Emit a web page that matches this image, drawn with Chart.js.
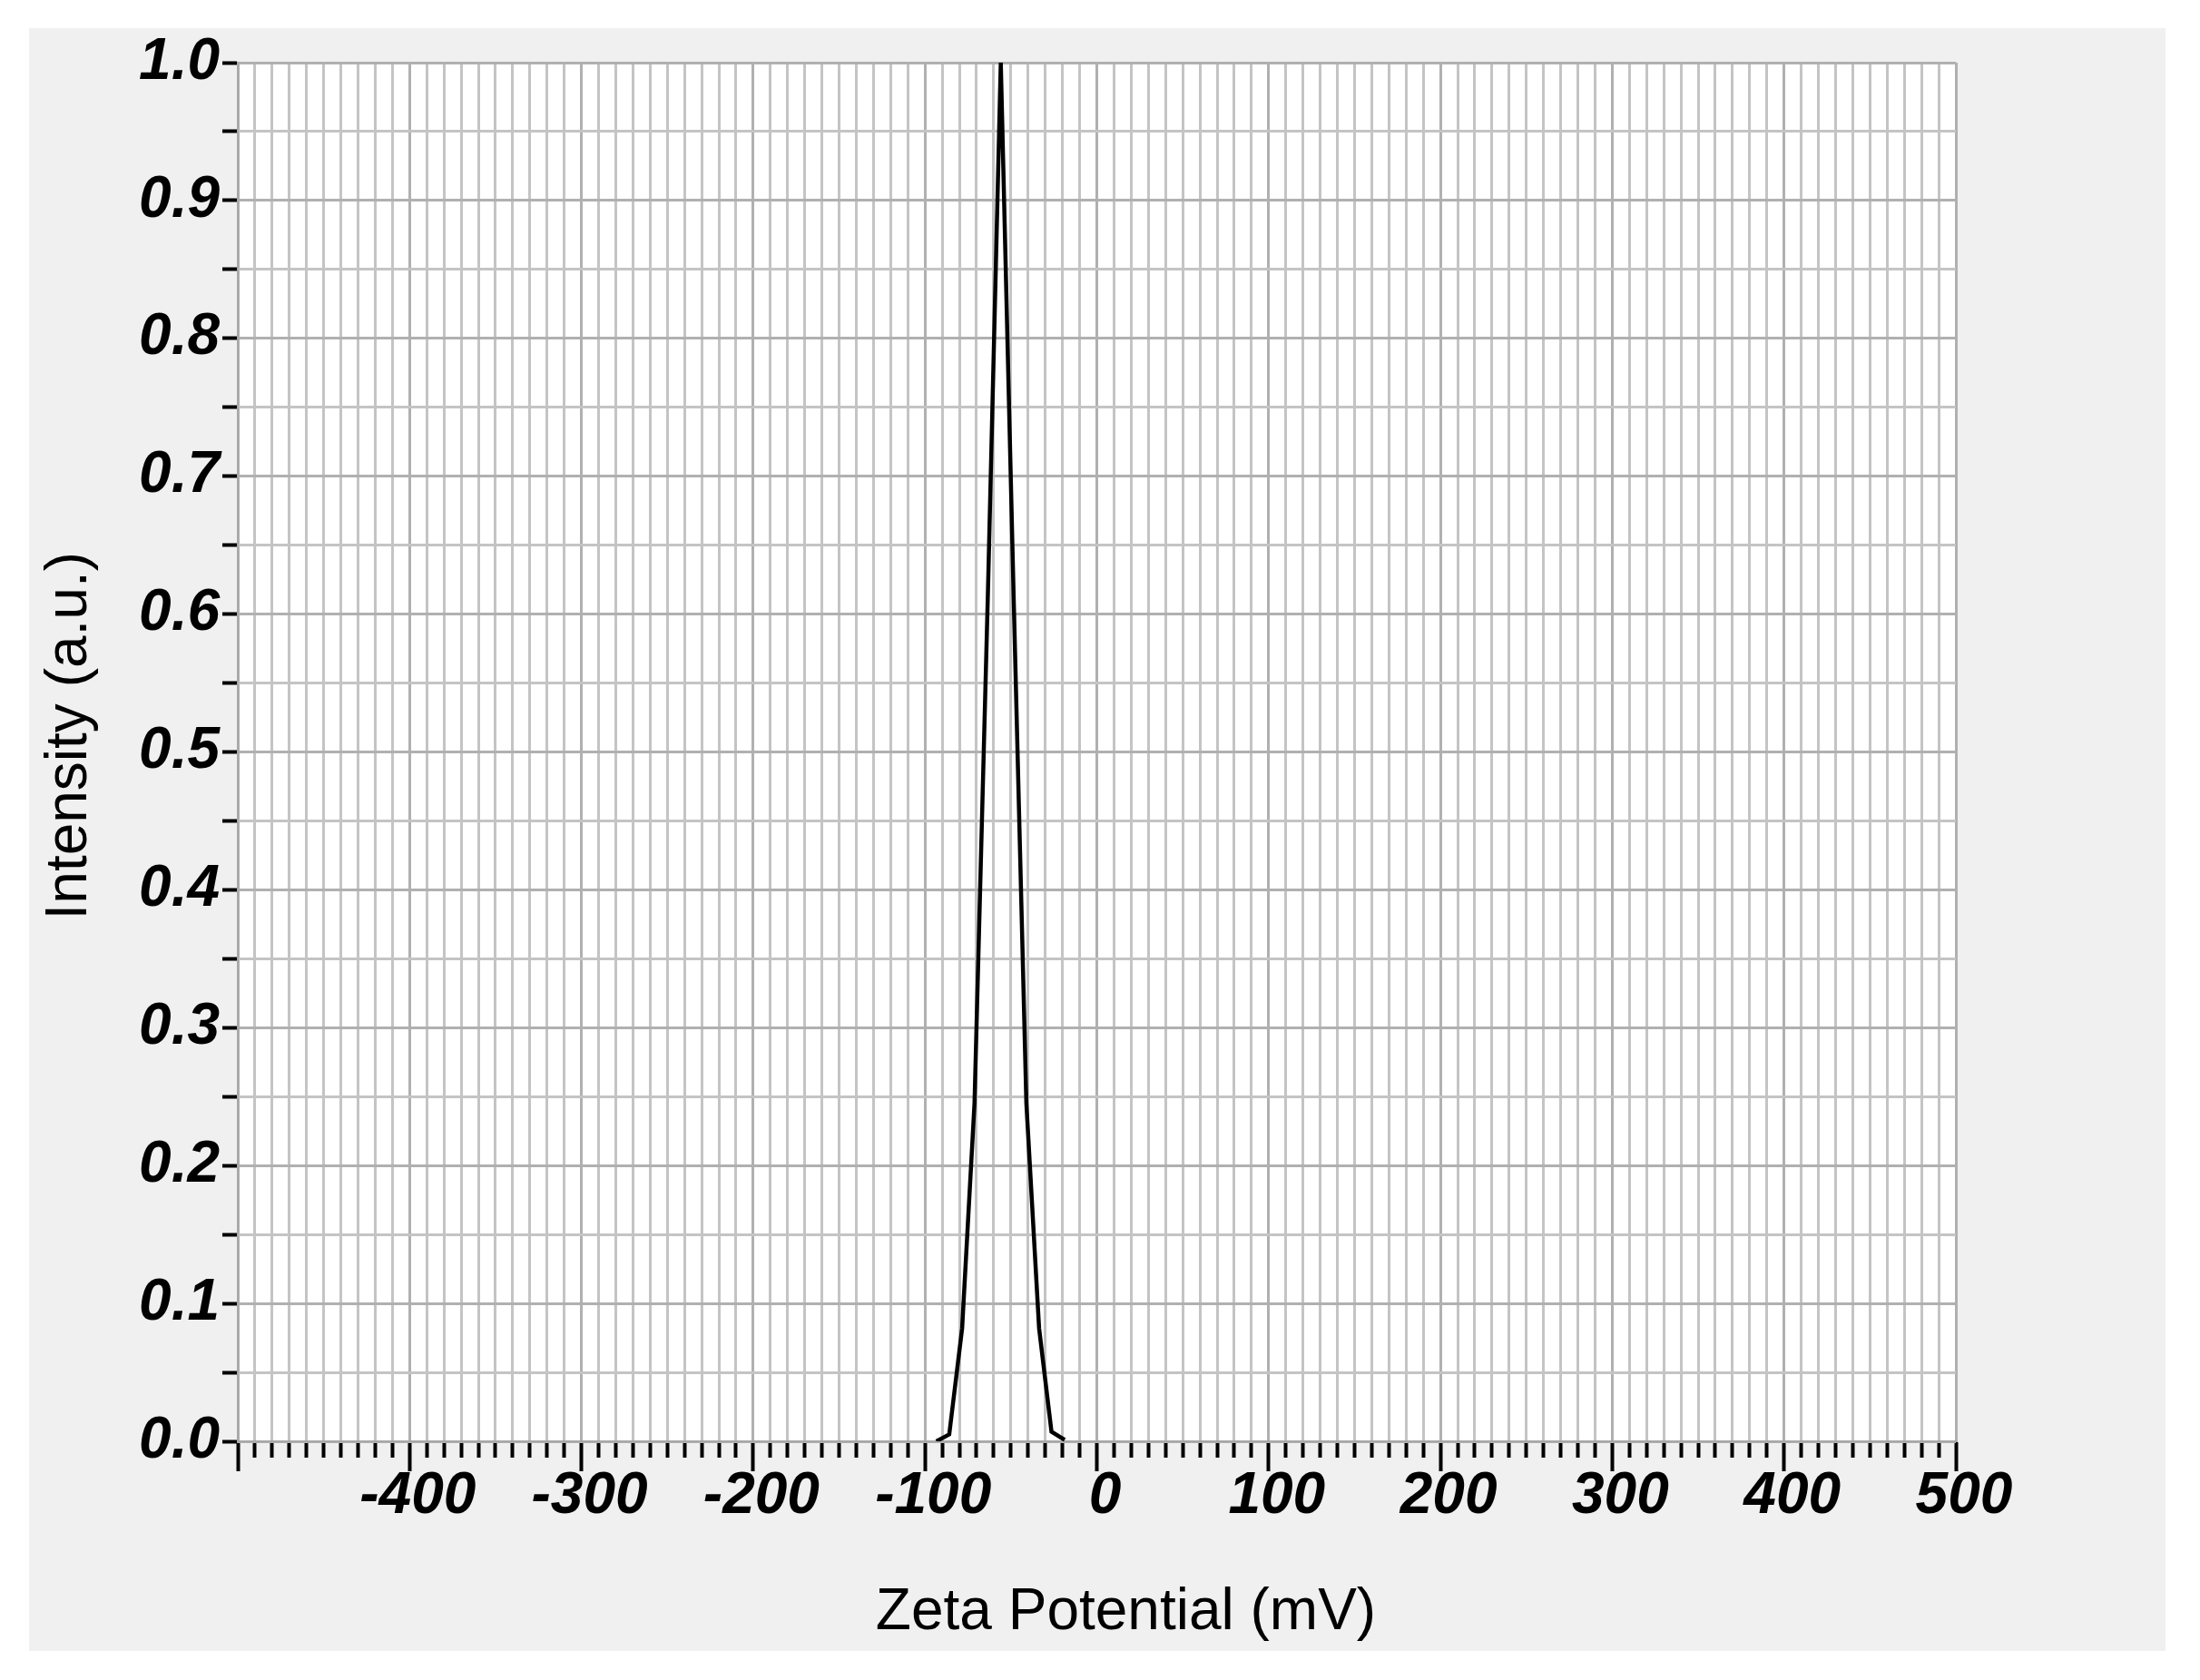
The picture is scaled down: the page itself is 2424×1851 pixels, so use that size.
<!DOCTYPE html>
<html>
<head>
<meta charset="utf-8">
<script src="https://cdn.jsdelivr.net/npm/chart.js@4"></script>
<style>
  html, body { margin: 0; padding: 0; background: #ffffff; }
  canvas { display: block; }
</style>
</head>
<body>
<canvas id="chart" width="2424" height="1851"></canvas>
<script>
// ---- data ----
const zetaPotential = [-93.4, -85.9, -78.4, -71.2, -63.4, -55.9, -48.4, -41.0, -33.6, -26.4, -18.7];
const intensity     = [0.000, 0.005, 0.082, 0.245, 0.615, 1.000, 0.612, 0.245, 0.082, 0.007, 0.001];

const xTickLabels = ['-400', '-300', '-200', '-100', '0', '100', '200', '300', '400', '500'];
const yTickLabels = ['0.0', '0.1', '0.2', '0.3', '0.4', '0.5', '0.6', '0.7', '0.8', '0.9', '1.0'];

const xAxisTitle = 'Zeta Potential (mV)';
const yAxisTitle = 'Intensity (a.u.)';

// ---- helpers ----
const isMajorX = v => Math.abs(v / 100 - Math.round(v / 100)) < 1e-6;
const isMajorY = v => Math.abs(v * 10 - Math.round(v * 10)) < 1e-6;
const FONT = "'Liberation Sans', Arial, Helvetica, sans-serif";

const backgroundPlugin = {
  id: 'panelBackground',
  beforeDraw(chart) {
    const { ctx, chartArea } = chart;
    ctx.save();
    ctx.fillStyle = '#f0f0f0';
    ctx.fillRect(32, 31, 2354, 1788);
    ctx.fillStyle = '#ffffff';
    ctx.fillRect(chartArea.left, chartArea.top, chartArea.right - chartArea.left, chartArea.bottom - chartArea.top);
    ctx.restore();
  }
};

new Chart(document.getElementById('chart'), {
  type: 'line',
  data: {
    datasets: [{
      data: zetaPotential.map((x, i) => ({ x: x, y: intensity[i] })),
      borderColor: '#000000',
      borderWidth: 4.5,
      pointRadius: 0,
      fill: false,
      tension: 0
    }]
  },
  options: {
    responsive: false,
    animation: false,
    events: [],
    layout: { padding: { left: 0, top: 69, right: 269, bottom: 0 } },
    plugins: { legend: { display: false }, tooltip: { enabled: false } },
    scales: {
      x: {
        type: 'linear',
        position: 'bottom',
        min: -500,
        max: 500,
        afterFit: s => { s.height = 263; },
        border: { display: true, color: '#a8a8a8', width: 2 },
        grid: {
          color: c => isMajorX(c.tick.value) ? '#b0b0b0' : '#c4c4c4',
          lineWidth: 3,
          drawTicks: true,
          tickLength: 33,
          tickColor: '#000000',
          tickWidth: 4,
          tickBorderDash: c => isMajorX(c.tick.value) ? [] : [17, 200]
        },
        ticks: {
          stepSize: 10,
          maxTicksLimit: 500,
          autoSkip: false,
          maxRotation: 0,
          minRotation: 0,
          labelOffset: 9,
          padding: 0,
          color: '#000000',
          font: { family: FONT, size: 64, style: 'italic', weight: 'bold', lineHeight: 0.9 },
          callback: v => {
            const s = String(Math.round(v));
            return xTickLabels.includes(s) ? s : '';
          }
        },
        title: {
          display: true,
          text: '\u2003' + xAxisTitle,
          color: '#000000',
          font: { family: FONT, size: 64, weight: 'normal', lineHeight: 1.2 },
          padding: { top: 0, bottom: 35 }
        }
      },
      y: {
        type: 'linear',
        position: 'left',
        min: 0,
        max: 1,
        afterFit: s => { s.width = 262; },
        border: { display: true, color: '#a8a8a8', width: 2 },
        grid: {
          color: c => isMajorY(c.tick.value) ? '#b0b0b0' : '#c4c4c4',
          lineWidth: 3,
          drawTicks: true,
          tickLength: 17,
          tickColor: '#000000',
          tickWidth: 4
        },
        ticks: {
          stepSize: 0.05,
          maxTicksLimit: 500,
          autoSkip: false,
          padding: 3,
          color: '#000000',
          font: { family: FONT, size: 64, style: 'italic', weight: 'bold', lineHeight: 1.2 },
          callback: v => {
            if (!isMajorY(v)) return '';
            const s = v.toFixed(1);
            return yTickLabels.includes(s) ? s : '';
          }
        },
        title: {
          display: true,
          text: '  ' + yAxisTitle,
          color: '#000000',
          font: { family: FONT, size: 64, weight: 'normal', lineHeight: 1.2 },
          padding: { top: 39, bottom: 0 }
        }
      }
    }
  },
  plugins: [backgroundPlugin]
});
</script>
</body>
</html>
